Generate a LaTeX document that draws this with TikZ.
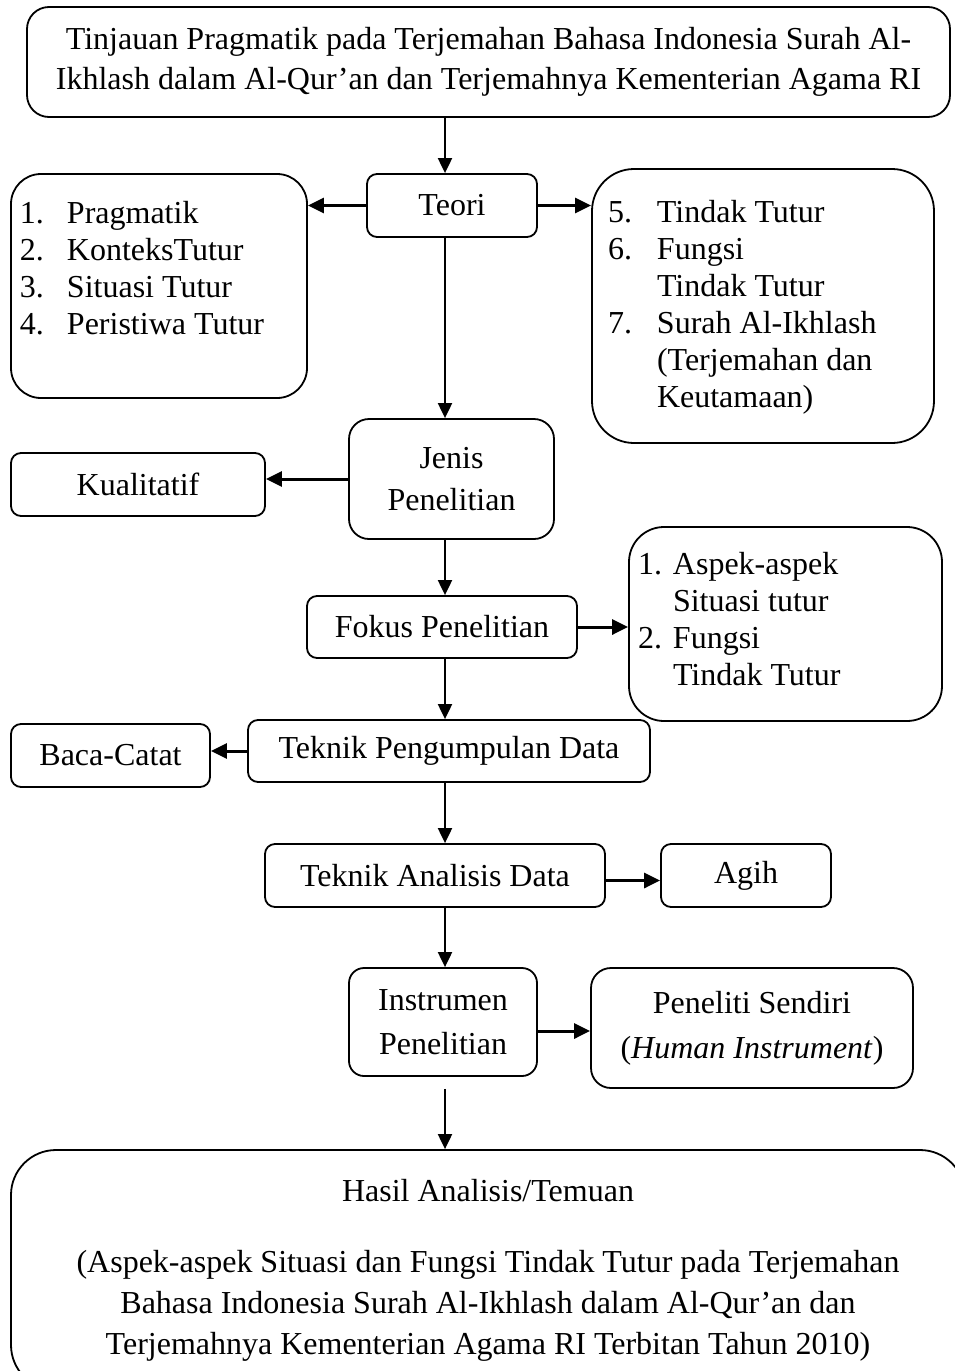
\documentclass[tikz,border=0pt]{standalone}
\usepackage{fontspec}
\setmainfont{Liberation Serif}
\usetikzlibrary{arrows.meta}

\begin{document}
\begin{tikzpicture}[
    x=1pt, y=-1pt,
    ->,
    >={Triangle[length=15pt, width=14pt]},
    line width=2pt,
    font=\fontsize{32}{37}\selectfont,
    kotak/.style={draw, line width=1.8pt, rounded corners=#1, align=center, inner sep=0pt},
    kotak/.default=10pt,
    samping/.style={line width=3pt, >={Triangle[length=16pt, width=15pt]}},
]
    \useasboundingbox (0,0) rectangle (955,1371);

    \node[kotak=22pt, minimum width=923pt, minimum height=110pt,
          font=\fontsize{32}{40}\selectfont]            (judul) at (488.5,62)
        {Tinjauan Pragmatik pada Terjemahan Bahasa Indonesia Surah Al-\\Ikhlash dalam Al-Qur'an dan Terjemahnya Kementerian Agama RI};

    \node[kotak, minimum width=170pt, minimum height=63pt]    (teori) at (452,205.5) {Teori};
    \node[kotak=30pt]                                          (kiri)  at (159,286)
        {\parbox[c][224pt][t]{296pt}{\leftskip=9pt\vspace*{24pt}%
            \strut\makebox[47pt][l]{1.}Pragmatik\\
            \makebox[47pt][l]{2.}KonteksTutur\\
            \makebox[47pt][l]{3.}Situasi Tutur\\
            \makebox[47pt][l]{4.}Peristiwa Tutur}};
    \node[kotak=42pt]                                          (kanan) at (763,306)
        {\parbox[c][274pt][t]{342pt}{\leftskip=16pt\vspace*{28pt}%
            \strut\makebox[49pt][l]{5.}Tindak Tutur\\
            \makebox[49pt][l]{6.}Fungsi\\
            \hspace*{49pt}Tindak Tutur\\
            \makebox[49pt][l]{7.}Surah Al-Ikhlash\\
            \hspace*{49pt}(Terjemahan dan\\
            \hspace*{49pt}Keutamaan)}};

    \node[kotak=20pt, minimum width=205pt, minimum height=120pt,
          font=\fontsize{32}{42}\selectfont]            (jenis) at (451.5,479) {Jenis\\Penelitian};
    \node[kotak, minimum width=254pt, minimum height=63pt]    (kualitatif) at (138,484.5) {Kualitatif};

    \node[kotak, minimum width=270pt, minimum height=62pt]    (fokus) at (442,627) {Fokus Penelitian};
    \node[kotak=35pt]                                          (aspek) at (785.5,624)
        {\parbox[c][194pt][t]{313pt}{\leftskip=9pt\vspace*{22pt}%
            \strut\makebox[35pt][l]{1.}Aspek-aspek\\
            \hspace*{35pt}Situasi tutur\\
            \makebox[35pt][l]{2.}Fungsi\\
            \hspace*{35pt}Tindak Tutur}};

    \node[kotak, minimum width=402pt, minimum height=62pt]    (pengumpulan) at (449,751) {Teknik Pengumpulan Data};
    \node[kotak, minimum width=199pt, minimum height=63pt]    (baca) at (110.5,755.5) {Baca-Catat};

    \node[kotak, minimum width=340pt, minimum height=63pt]    (analisis) at (435,875.5) {Teknik Analisis Data};
    \node[kotak, minimum width=170pt, minimum height=63pt]    (agih) at (746,875.5) {Agih};

    \node[kotak=15pt, minimum width=188pt, minimum height=108pt,
          font=\fontsize{32}{44}\selectfont]            (instrumen) at (443,1022) {Instrumen\\Penelitian};
    \node[kotak=20pt, minimum width=322pt, minimum height=120pt,
          font=\fontsize{32}{45}\selectfont]            (peneliti) at (752,1028) {Peneliti Sendiri\\(\textit{Human Instrument})};

    \node[kotak=45pt, minimum width=954pt, minimum height=240pt,
          font=\fontsize{32}{41}\selectfont]            (hasil) at (488,1270)
        {Hasil Analisis/Temuan\\[30pt]
         (Aspek-aspek Situasi dan Fungsi Tindak Tutur pada Terjemahan\\
         Bahasa Indonesia Surah Al-Ikhlash dalam Al-Qur'an dan\\
         Terjemahnya Kementerian Agama RI Terbitan Tahun 2010)};

    \coordinate (jalur) at (445,0);

    \path
        (judul.south -| jalur)                   edge            (teori.north -| jalur)
        (teori.west)                             edge [samping]  (kiri.east |- teori.west)
        (teori.east)                             edge [samping]  (kanan.west |- teori.east)
        (teori.south -| jalur)                   edge            (jenis.north -| jalur)
        (jenis.west)                             edge [samping]  (kualitatif.east |- jenis.west)
        (jenis.south -| jalur)                   edge            (fokus.north -| jalur)
        (fokus.east)                             edge [samping]  (aspek.west |- fokus.east)
        (fokus.south -| jalur)                   edge            (pengumpulan.north -| jalur)
        (pengumpulan.west)                       edge [samping]  (baca.east |- pengumpulan.west)
        (pengumpulan.south -| jalur)             edge            (analisis.north -| jalur)
        ([yshift=-5pt]analisis.east)             edge [samping]  ([yshift=-5pt]agih.west)
        (analisis.south -| jalur)                edge            (instrumen.north -| jalur)
        ([yshift=-9pt]instrumen.east)            edge [samping]  ([yshift=-3pt]peneliti.west)
        ([yshift=-12pt]instrumen.south -| jalur) edge            (hasil.north -| jalur)
    ;
\end{tikzpicture}
\end{document}
